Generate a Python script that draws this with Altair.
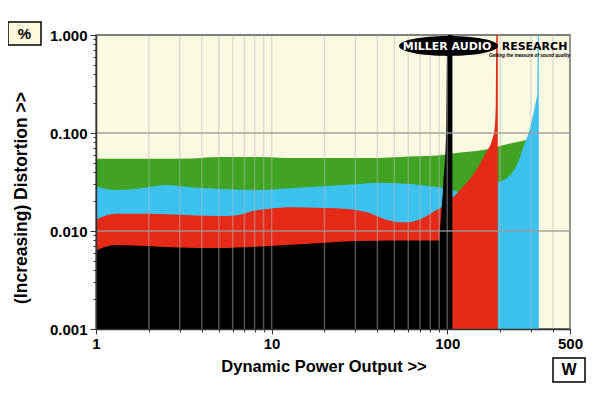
import altair as alt
import pandas as pd

# ---- data (watts, % distortion) ----
green_w = [1, 2, 3.5, 4.5, 6, 9, 12, 20, 40, 60, 94, 112, 128, 166, 234, 267, 300]
green_pct = [0.0545, 0.0545, 0.0548, 0.0565, 0.0568, 0.0568, 0.0557, 0.0556, 0.0557,
             0.0575, 0.0597, 0.0626, 0.064, 0.068, 0.079, 0.083, 0.088]

blue_w = [1, 1.3, 1.7, 2.2, 2.5, 3.4, 5.3, 8.2, 12, 21, 30, 42, 55, 69, 94, 107, 117,
          140, 170, 200, 220, 240, 255, 270, 290, 305, 318, 326, 328, 332]
blue_pct = [0.0287, 0.0262, 0.027, 0.0288, 0.0295, 0.028, 0.0268, 0.0262, 0.0272, 0.0288,
            0.03, 0.031, 0.0305, 0.0295, 0.0275, 0.026, 0.025, 0.026, 0.029, 0.032, 0.035,
            0.042, 0.052, 0.07, 0.1, 0.14, 0.2, 0.26, 1.5, 1.5]

red_w = [1, 1.15, 1.3, 2, 2.5, 3.5, 5, 6.5, 8.2, 10, 12.6, 20, 27, 35, 45, 53, 60, 72, 85,
         94, 107, 120, 138, 155, 166, 180, 186, 189, 190.5, 194]
red_pct = [0.013, 0.0145, 0.0150, 0.0150, 0.0148, 0.0145, 0.0142, 0.0146, 0.0163, 0.0170,
           0.0175, 0.0172, 0.0168, 0.0155, 0.0130, 0.0123, 0.0123, 0.0135, 0.0160, 0.0178,
           0.0217, 0.027, 0.036, 0.050, 0.063, 0.085, 0.11, 0.2, 1.5, 1.5]

black_w = [1, 1.1, 1.3, 2, 3, 5, 8, 12, 20, 30, 50, 70, 90, 91.5, 93, 95, 98.5, 100, 101, 107]
black_pct = [0.0063, 0.0068, 0.0072, 0.0070, 0.0068, 0.0067, 0.0069, 0.0072, 0.0076,
             0.0079, 0.0080, 0.0080, 0.0080, 0.012, 0.0175, 0.03, 0.1, 1.0, 1.5, 1.5]

base_pct = 0.001  # bottom of the plot (floor of the filled areas)

x_ticks = [1, 2, 3, 4, 5, 6, 7, 8, 9, 10, 20, 30, 40, 50, 60, 70, 80, 90,
           100, 200, 300, 400, 500]
y_ticks = [0.001, 0.002, 0.003, 0.004, 0.005, 0.006, 0.007, 0.008, 0.009,
           0.01, 0.02, 0.03, 0.04, 0.05, 0.06, 0.07, 0.08, 0.09,
           0.1, 0.2, 0.3, 0.4, 0.5, 0.6, 0.7, 0.8, 0.9, 1]
y_grid = [0.01, 0.1]

FONT = "Liberation Sans"
CREAM = "#fcf9e3"

x_scale = alt.Scale(type="log", domain=[1, 500])
y_scale = alt.Scale(type="log", domain=[0.001, 1])

x_major_test = "(datum.value == 1 || datum.value == 10 || datum.value == 100 || datum.value == 500)"
y_major_test = "(datum.value == 0.001 || datum.value == 0.01 || datum.value == 0.1 || datum.value == 1)"

x_axis = alt.Axis(
    values=x_ticks,
    labelExpr=x_major_test + " ? datum.label : ''",
    format="d",
    tickSize={"condition": {"test": x_major_test, "value": 5}, "value": 3},
    grid=False, labelFlush=False, labelOverlap=False, labelPadding=2,
    labelFont=FONT, labelFontSize=15, labelFontWeight="bold", labelColor="black",
    tickColor="#333", domainColor="#333", domainWidth=1.5,
    title="Dynamic Power Output >>", titleFont=FONT, titleFontSize=16.5, titleFontWeight="bold",
    titleColor="black", titleX=227.5, titleY=37, titleAlign="center", titleBaseline="middle",
    zindex=1,
)
y_axis = alt.Axis(
    values=y_ticks,
    labelExpr=y_major_test + " ? datum.label : ''",
    format=".3f",
    tickSize={"condition": {"test": y_major_test, "value": 6}, "value": 3},
    grid=False, labelFlush=False, labelOverlap=False, labelPadding=3,
    labelFont=FONT, labelFontSize=15, labelFontWeight="bold", labelColor="black",
    tickColor="#333", domainColor="#333", domainWidth=1.5,
    title="(Increasing) Distortion >>", titleFont=FONT, titleFontSize=17.5, titleFontWeight="bold",
    titleColor="black", titleX=-75, titleY=162.5, titleAngle=270, titleAlign="center",
    titleBaseline="middle", zindex=1,
)


def area(ws, ps, color):
    df = pd.DataFrame({"w": ws, "pct": ps, "base": [base_pct] * len(ws)})
    return alt.Chart(df).mark_area(color=color, opacity=1, clip=True, interpolate="monotone").encode(
        x=alt.X("w:Q", scale=x_scale, axis=x_axis),
        y=alt.Y("pct:Q", scale=y_scale, axis=y_axis),
        y2=alt.Y2("base:Q"),
    )


green = area(green_w, green_pct, "#41a322")
blue = area(blue_w, blue_pct, "#3cc2ef")
red = area(red_w, red_pct, "#e52a18")
black = area(black_w, black_pct, "#000000")

vgrid = alt.Chart(pd.DataFrame({"w": x_ticks})).mark_rule(
    color="#b8b8b8", opacity=0.45, strokeWidth=1.5).encode(
    x=alt.X("w:Q", scale=x_scale, axis=x_axis))
hgrid = alt.Chart(pd.DataFrame({"pct": y_grid})).mark_rule(
    color="#9a9a9a", opacity=0.9, strokeWidth=1.5).encode(
    y=alt.Y("pct:Q", scale=y_scale, axis=y_axis))

one = pd.DataFrame({"k": [0]})
ellipse = alt.Chart(one).mark_point(
    shape="M -1 0 A 1 0.2 0 1 0 1 0 A 1 0.2 0 1 0 -1 0 Z",
    filled=True, color="black", opacity=1, size=9801, strokeWidth=0).encode(
    x=alt.value(352.5), y=alt.value(11))

logo1 = alt.Chart(pd.DataFrame({"s": ["MILLER AUDIO"]})).mark_text(
    font="DejaVu Sans", fontWeight="bold", fontSize=11, color="white",
    align="center", baseline="middle").encode(text="s:N", x=alt.value(351), y=alt.value(11.5))
logo2 = alt.Chart(pd.DataFrame({"s": ["RESEARCH"]})).mark_text(
    font="DejaVu Sans", fontWeight="bold", fontSize=11, color="black",
    align="center", baseline="middle").encode(text="s:N", x=alt.value(438.5), y=alt.value(11.5))
logo3 = alt.Chart(pd.DataFrame({"s": ["Getting the measure of sound quality"]})).mark_text(
    font=FONT, fontWeight="bold", fontStyle="italic", fontSize=4.6, color="black",
    align="center", baseline="middle").encode(text="s:N", x=alt.value(433.5), y=alt.value(21))

pct_box = alt.Chart(one).mark_rect(fill="#fdf9dc", stroke="black", strokeWidth=1.5).encode(
    x=alt.value(-88), x2=alt.value(-55), y=alt.value(-13), y2=alt.value(10))
pct_txt = alt.Chart(pd.DataFrame({"s": ["%"]})).mark_text(
    font=FONT, fontWeight="bold", fontSize=15, color="black",
    align="center", baseline="middle").encode(text="s:N", x=alt.value(-71.5), y=alt.value(-1.5))
w_box = alt.Chart(one).mark_rect(fill="white", stroke="black", strokeWidth=1.5).encode(
    x=alt.value(457), x2=alt.value(489), y=alt.value(323), y2=alt.value(347))
w_txt = alt.Chart(pd.DataFrame({"s": ["W"]})).mark_text(
    font=FONT, fontWeight="bold", fontSize=16, color="black",
    align="center", baseline="middle").encode(text="s:N", x=alt.value(473), y=alt.value(335))

chart = alt.layer(
    green, blue, red, black, vgrid, hgrid, ellipse, logo1, logo2, logo3,
    pct_box, pct_txt, w_box, w_txt
).properties(
    width=474, height=294,
    padding={"left": 88, "top": 27, "right": 22, "bottom": 56},
    autosize=alt.AutoSizeParams(type="none"),
    background="white",
).configure_view(
    fill=CREAM, stroke="#555555", strokeWidth=1.5
)

chart.save("out.html", embed_options={"renderer": "svg", "actions": False})
